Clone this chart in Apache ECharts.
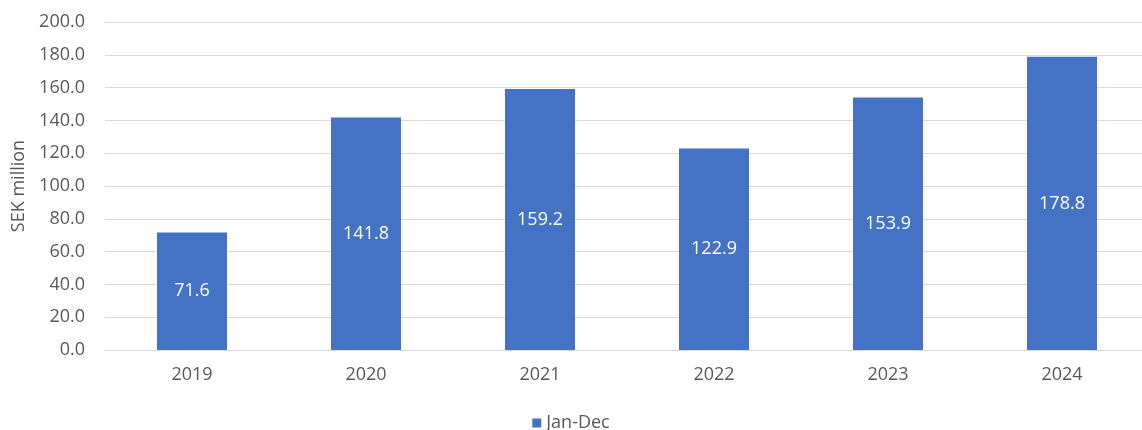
<!DOCTYPE html>
<html>
<head>
<meta charset="utf-8">
<script src="https://cdn.jsdelivr.net/npm/echarts@6/dist/echarts.min.js"></script>
<style>
  html, body { margin: 0; padding: 0; background: #fff; }
  #chart { width: 1142px; height: 430px; }
</style>
</head>
<body>
<div id="chart"></div>
<script>
// categories and values
const years = ['2019', '2020', '2021', '2022', '2023', '2024'];
const janDec = [71.6, 141.8, 159.2, 122.9, 153.9, 178.8];
const seriesName = 'Jan-Dec';
const axisTitle = 'SEK million';

const font = '"Open Sans", "Noto Sans", sans-serif';
const grey = '#595959';

let myChart = echarts.init(document.getElementById('chart'));

let option = {
    animation: false,
    textStyle: { fontFamily: font },
    grid: {
        left: 105,
        top: 22,
        right: -7,
        height: 328,
        outerBoundsMode: 'none',
        containLabel: false
    },
    legend: {
        data: [seriesName],
        top: 413,
        left: 'center',
        icon: 'rect',
        itemWidth: 9,
        itemHeight: 9,
        itemGap: 5,
        padding: 0,
        textStyle: { fontFamily: font, fontSize: 18, color: grey, lineHeight: 20 }
    },
    xAxis: {
        type: 'category',
        data: years,
        axisTick: { show: false },
        axisLine: { lineStyle: { color: '#d9d9d9' } },
        axisLabel: { color: grey, fontSize: 18, margin: 16, fontFamily: font }
    },
    yAxis: {
        type: 'value',
        min: 0,
        max: 200,
        interval: 20,
        name: axisTitle,
        nameLocation: 'middle',
        nameRotate: 90,
        nameGap: 77,
        nameTextStyle: { color: grey, fontSize: 18, fontFamily: font },
        axisLine: { show: false },
        axisTick: { show: false },
        axisLabel: {
            color: grey,
            fontSize: 18,
            margin: 20,
            fontFamily: font,
            formatter: function (v) { return v.toFixed(1); }
        },
        splitLine: { lineStyle: { color: '#d9d9d9', width: 1 } }
    },
    series: [
        {
            name: seriesName,
            type: 'bar',
            data: janDec,
            barWidth: 70,
            itemStyle: { color: '#4472c4' },
            label: {
                show: true,
                position: 'inside',
                color: '#ffffff',
                fontSize: 18,
                fontFamily: font,
                formatter: function (p) { return p.value.toFixed(1); }
            }
        }
    ]
};

myChart.setOption(option);
</script>
</body>
</html>
